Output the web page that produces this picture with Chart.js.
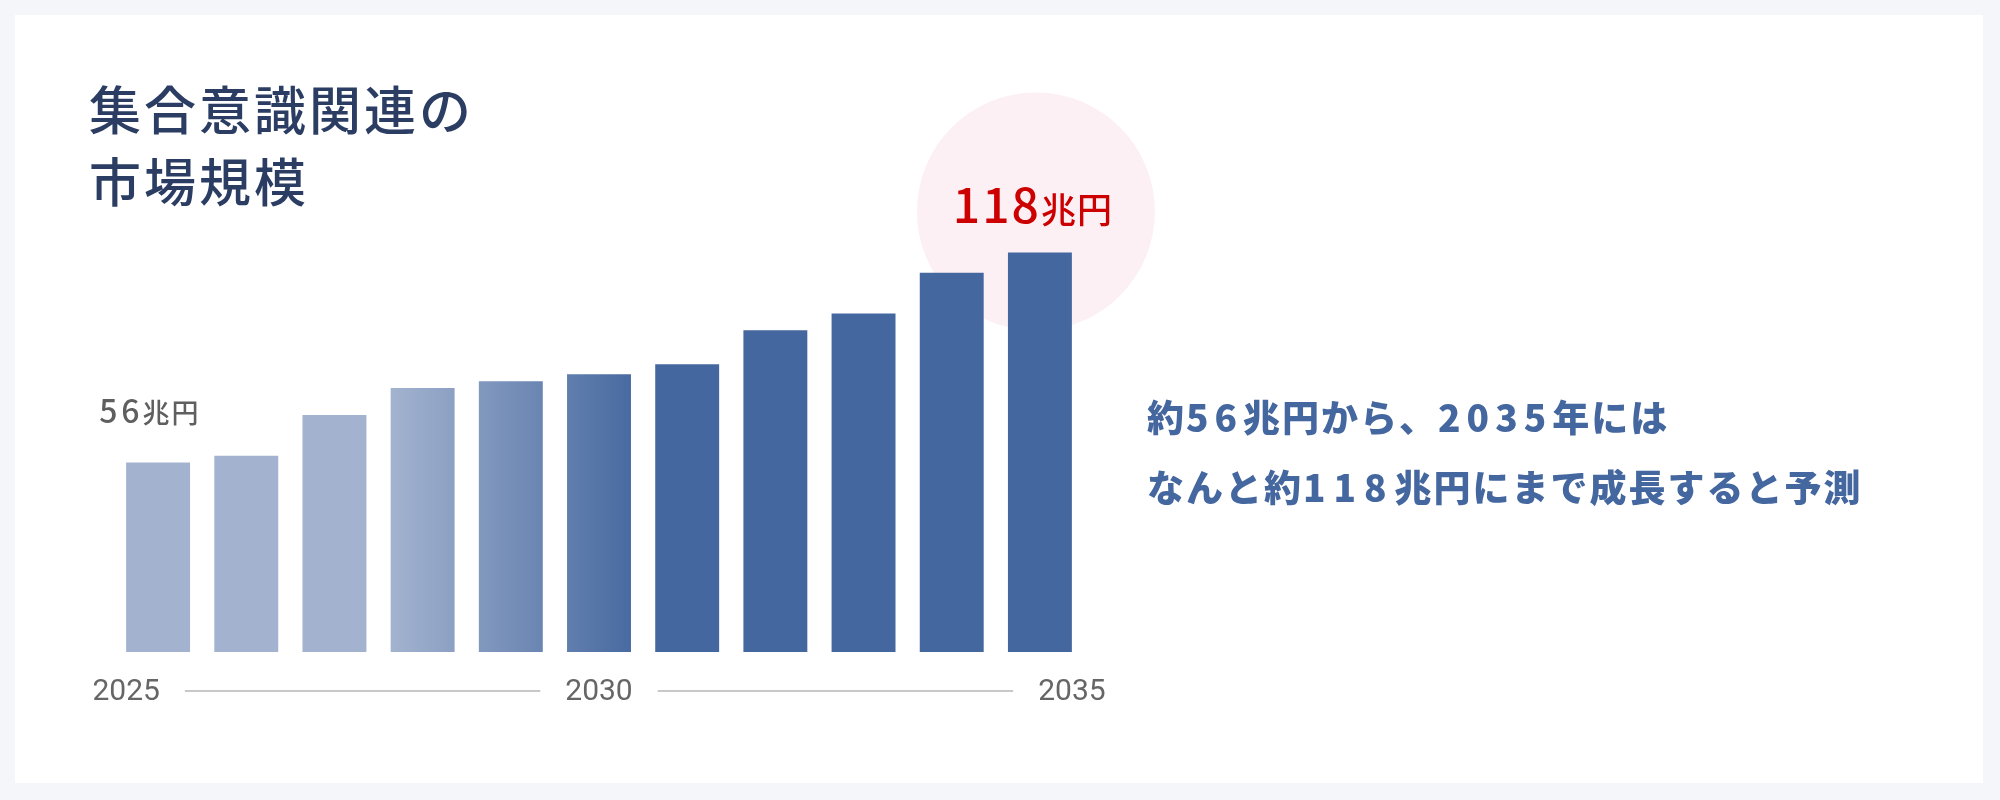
<!DOCTYPE html>
<html lang="ja">
<head>
    <meta charset="UTF-8">
    <title>集合意識関連の市場規模</title>
    <script src="https://cdn.jsdelivr.net/npm/chart.js"></script>
    <style>
        body { margin: 0; background: #f4f6fa; width: 2000px; height: 800px; position: relative; overflow: hidden; }
        .card { position: absolute; left: 15px; top: 15px; width: 1968px; height: 768px; background: #fff; }
        #myChart { position: absolute; left: 0; top: 0; }
        .title {
            position: absolute; left: 89px; top: 72px; margin: 0;
            font-family: "Noto Sans CJK JP", sans-serif; font-weight: 500;
            font-size: 52px; line-height: 72px; letter-spacing: 3px; color: #2b3d62;
        }
        .note {
            position: absolute; left: 1147px; top: 381px; margin: 0;
            font-family: "Noto Sans CJK JP", sans-serif; font-weight: 900;
            font-size: 37px; line-height: 70px; letter-spacing: 2px; color: #44679f;
        }
        .note .d { letter-spacing: 6px; }
        .note .num { letter-spacing: 8px; }
    </style>
</head>
<body>
    <div class="card"></div>
    <canvas id="myChart" width="2000" height="800"></canvas>
    <h1 class="title">集合意識関連の<br>市場規模</h1>
    <p class="note">約<span class="d">56</span>兆円から、<span class="d">2035</span>年には<br>なんと約<span class="num">118</span>兆円にまで成長すると予測</p>

    <script>
        // data
        const years = ['2025', '2026', '2027', '2028', '2029', '2030', '2031', '2032', '2033', '2034', '2035'];
        const marketSize = [56, 58, 70, 78, 80, 82, 85, 95, 100, 112, 118];
        const tickYears = ['2025', '2030', '2035'];
        const unit = '兆円';

        const lightBlue = '#a3b3cf';
        const darkBlue = '#44679f';

        function barFill(context) {
            const chart = context.chart;
            const x = chart.scales.x;
            if (!chart.chartArea || !x) return lightBlue;
            const step = x.getPixelForValue(1) - x.getPixelForValue(0);
            const start = x.getPixelForValue(3) - step * 0.36;
            const end = x.getPixelForValue(5) + step * 0.5;
            const g = chart.ctx.createLinearGradient(start, 0, end, 0);
            g.addColorStop(0, lightBlue);
            g.addColorStop(1, darkBlue);
            return g;
        }

        const decor = {
            id: 'decor',
            beforeDatasetsDraw(chart) {
                const ctx = chart.ctx;
                const bars = chart.getDatasetMeta(0).data;
                const last = bars[bars.length - 1];
                ctx.save();
                ctx.fillStyle = '#fcf0f4';
                ctx.beginPath();
                ctx.arc(last.x - 4, last.y - 41, 119, 0, Math.PI * 2);
                ctx.fill();
                ctx.restore();
            },
            afterDatasetsDraw(chart) {
                const ctx = chart.ctx;
                const bars = chart.getDatasetMeta(0).data;
                const first = bars[0];
                const last = bars[bars.length - 1];
                ctx.save();
                ctx.textBaseline = 'alphabetic';
                ctx.textAlign = 'left';

                // start value
                ctx.fillStyle = '#5f5f5f';
                ctx.font = '500 32px "Noto Sans CJK JP"';
                ctx.letterSpacing = '4px';
                let x0 = first.x - first.width / 2 - 27;
                const y0 = first.y - 39;
                const s1 = String(marketSize[0]);
                ctx.fillText(s1, x0, y0);
                x0 += ctx.measureText(s1).width - 1;
                ctx.font = '500 27px "Noto Sans CJK JP"';
                ctx.letterSpacing = '2px';
                ctx.fillText(unit, x0, y0);

                // end value
                ctx.fillStyle = '#cc0000';
                const s2 = String(marketSize[marketSize.length - 1]);
                ctx.font = '500 48px "Noto Sans CJK JP"';
                ctx.letterSpacing = '2px';
                const w1 = ctx.measureText(s2).width;
                ctx.font = '500 35px "Noto Sans CJK JP"';
                ctx.letterSpacing = '1px';
                const w2 = ctx.measureText(unit).width;
                let x1 = last.x - 7 - (w1 + w2) / 2;
                const y1 = last.y - 29;
                ctx.font = '500 48px "Noto Sans CJK JP"';
                ctx.letterSpacing = '2px';
                ctx.fillText(s2, x1, y1);
                ctx.font = '500 35px "Noto Sans CJK JP"';
                ctx.letterSpacing = '1px';
                ctx.fillText(unit, x1 + w1, y1);

                // year axis: labels at first bar left edge, middle bar center, last bar right edge
                ctx.letterSpacing = '0px';
                ctx.font = '30px Roboto';
                ctx.fillStyle = '#666';
                ctx.textAlign = 'center';
                ctx.textBaseline = 'middle';
                const ay = 691;
                const mid = bars[years.indexOf(tickYears[1])];
                const pos = [first.x - first.width / 2, mid.x, last.x + last.width / 2];
                const widths = [];
                tickYears.forEach((t, i) => {
                    ctx.fillText(t, pos[i], ay + 1);
                    widths.push(ctx.measureText(t).width);
                });
                ctx.strokeStyle = '#c8c8c8';
                ctx.lineWidth = 2;
                for (let i = 0; i < pos.length - 1; i++) {
                    ctx.beginPath();
                    ctx.moveTo(pos[i] + widths[i] / 2 + 25, ay);
                    ctx.lineTo(pos[i + 1] - widths[i + 1] / 2 - 25, ay);
                    ctx.stroke();
                }
                ctx.restore();
            }
        };

        new Chart(document.getElementById('myChart'), {
            type: 'bar',
            data: {
                labels: years,
                datasets: [{
                    data: marketSize,
                    backgroundColor: barFill,
                    borderWidth: 0,
                    barPercentage: 1,
                    categoryPercentage: 0.725
                }]
            },
            options: {
                responsive: false,
                animation: false,
                layout: { padding: { left: 114, right: 916, top: 178, bottom: 148 } },
                plugins: { legend: { display: false }, tooltip: { enabled: false } },
                scales: {
                    x: { display: false },
                    y: { display: false, min: 0, max: 140 }
                }
            },
            plugins: [decor]
        });
    </script>
</body>
</html>
